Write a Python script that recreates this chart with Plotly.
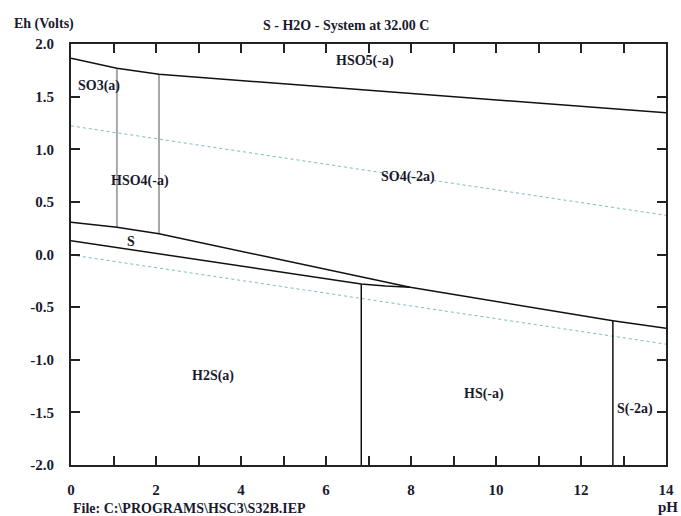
import plotly.graph_objects as go

# ---- data ----
ph_top = [0.0, 1.08, 2.07, 14.0]
eh_top = [1.864, 1.769, 1.712, 1.347]

ph_upper = [0.0, 1.08, 2.07, 7.98, 12.75, 14.0]
eh_upper = [0.306, 0.258, 0.198, -0.312, -0.629, -0.701]

ph_lower = [0.0, 6.83, 7.40, 7.98]
eh_lower = [0.131, -0.280, -0.300, -0.312]

gray_vert_ph = [1.08, 2.07]
gray_vert_top = [1.769, 1.712]
gray_vert_bot = [0.258, 0.198]

black_vert_ph = [6.83, 12.75]
black_vert_top = [-0.280, -0.629]
black_vert_bot = [-2.0, -2.0]

water_ph = [0.0, 14.0]
water_upper = [1.222, 0.372]
water_lower = [-0.004, -0.852]

region_labels = ["HSO5(-a)", "SO3(a)", "HSO4(-a)", "SO4(-2a)", "S", "H2S(a)", "HS(-a)", "S(-2a)"]
region_ph = [6.92, 0.67, 1.63, 7.93, 1.40, 3.33, 9.71, 13.28]
region_eh = [1.838, 1.60, 0.698, 0.736, 0.128, -1.154, -1.325, -1.468]

x_ticks = list(range(0, 15))
x_ticktext = [str(v) if v % 2 == 0 else "" for v in x_ticks]
y_ticks = [2.0, 1.5, 1.0, 0.5, 0.0, -0.5, -1.0, -1.5, -2.0]
y_ticktext = ["2.0", "1.5", "1.0", "0.5", "0.0", "-0.5", "-1.0", "-1.5", "-2.0"]

FONT = "Liberation Serif"
TXT = "#1a1a2e"

fig = go.Figure()

def line(x, y, color, width, dash="solid"):
    fig.add_trace(go.Scatter(x=x, y=y, mode="lines",
                             line=dict(color=color, width=width, dash=dash),
                             hoverinfo="skip", showlegend=False, cliponaxis=False))

# water stability lines
line(water_ph, water_upper, "#7fbcbc", 1, "dot")
line(water_ph, water_lower, "#7fbcbc", 1, "dot")

# gray verticals
for p, t, b in zip(gray_vert_ph, gray_vert_top, gray_vert_bot):
    line([p, p], [t, b], "#a8a8a8", 2)

# black boundaries
line(ph_top, eh_top, "#111111", 1.5)
line(ph_upper, eh_upper, "#111111", 1.5)
line(ph_lower, eh_lower, "#111111", 1.5)
for p, t, b in zip(black_vert_ph, black_vert_top, black_vert_bot):
    line([p, p], [t, b], "#111111", 1.5)

for lab, x, y in zip(region_labels, region_ph, region_eh):
    fig.add_annotation(x=x, y=y, text=lab, showarrow=False,
                       font=dict(family=FONT, size=14, color=TXT, weight="bold"))

fig.add_annotation(xref="paper", yref="paper", x=-0.1, y=1.0, yshift=20,
                   xanchor="left", yanchor="middle", text="Eh (Volts)", showarrow=False,
                   font=dict(family=FONT, size=14, color=TXT, weight="bold"))
fig.add_annotation(xref="paper", yref="paper", x=0.462, y=1.0, yshift=19,
                   xanchor="center", yanchor="middle", text="S - H2O - System at 32.00 C", showarrow=False,
                   font=dict(family=FONT, size=14, color=TXT, weight="bold"))
fig.add_annotation(xref="paper", yref="paper", x=0.0, y=0.0, yshift=-43,
                   xanchor="left", yanchor="middle", text="File: C:\\PROGRAMS\\HSC3\\S32B.IEP", showarrow=False,
                   font=dict(family=FONT, size=14, color=TXT, weight="bold"))
fig.add_annotation(xref="paper", yref="paper", x=1.0, y=0.0, yshift=-42, xshift=14,
                   xanchor="right", yanchor="middle", text="pH", showarrow=False,
                   font=dict(family=FONT, size=15, color=TXT, weight="bold"))

axis_common = dict(showgrid=False, zeroline=False, showline=True, linewidth=2,
                   linecolor="#222222", mirror="ticks", ticks="inside", ticklen=9,
                   tickwidth=1.5, tickcolor="#222222", automargin=False,
                   tickfont=dict(family=FONT, size=15, color=TXT, weight="bold"))

fig.update_xaxes(range=[0, 14], tickmode="array", tickvals=x_ticks, ticktext=x_ticktext,
                 ticklabelstandoff=10, **axis_common)
fig.update_yaxes(range=[-2, 2], tickmode="array", tickvals=y_ticks, ticktext=y_ticktext,
                 ticklabelstandoff=12, **axis_common)

fig.update_layout(width=681, height=516, margin=dict(l=71, r=15, t=44, b=51),
                  plot_bgcolor="white", paper_bgcolor="white")

fig.write_html("out.html")
